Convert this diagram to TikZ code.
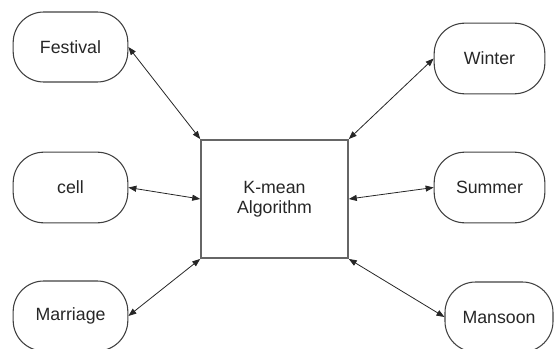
\documentclass[tikz,border=0pt]{standalone}
\usepackage{fontspec}
\setmainfont{Liberation Sans}
\usetikzlibrary{arrows.meta}
\begin{document}
\begin{tikzpicture}[x=0.75pt,y=-0.75pt,
  term/.style={draw=black!75, line width=0.8pt, rounded corners=23pt,
    inner sep=0pt, align=center, text=black!85,
    font=\fontsize{13.3}{16}\selectfont},
  algo/.style={draw=black!60, line width=1.4pt, inner sep=0pt, align=center,
    minimum width=110pt, minimum height=88.5pt, text=black!85,
    font=\fontsize{13.3}{15}\selectfont},
  link/.style={draw=black!85, line width=0.6pt,
    {Triangle[length=6pt,width=4.5pt]}-{Triangle[length=6pt,width=4.5pt]}}]
\useasboundingbox (0,0) rectangle (556,349);

\node[algo] (km) at (274.5,199) {K-mean\\Algorithm};

\node[term, minimum width=86pt, minimum height=52.5pt] (festival) at (70.5,47) {Festival};
\node[term, minimum width=86pt, minimum height=53pt] (cell) at (70.5,187.5) {cell};
\node[term, minimum width=86pt, minimum height=52.5pt] (marriage) at (70.5,316) {Marriage};
\node[term, minimum width=83pt, minimum height=53pt] (winter) at (489.5,58.5) {Winter};
\node[term, minimum width=83pt, minimum height=53pt] (summer) at (489.5,187.5) {Summer};
\node[term, minimum width=81pt, minimum height=52.5pt] (mansoon) at (499,317) {Mansoon};

\draw[link] (festival.east) -- (km.north west);
\draw[link] (cell.east) -- (km.west);
\draw[link] (marriage.east) -- (km.south west);
\draw[link] (winter.west) -- (km.north east);
\draw[link] (summer.west) -- (km.east);
\draw[link] (mansoon.west) -- (km.south east);
\end{tikzpicture}
\end{document}
